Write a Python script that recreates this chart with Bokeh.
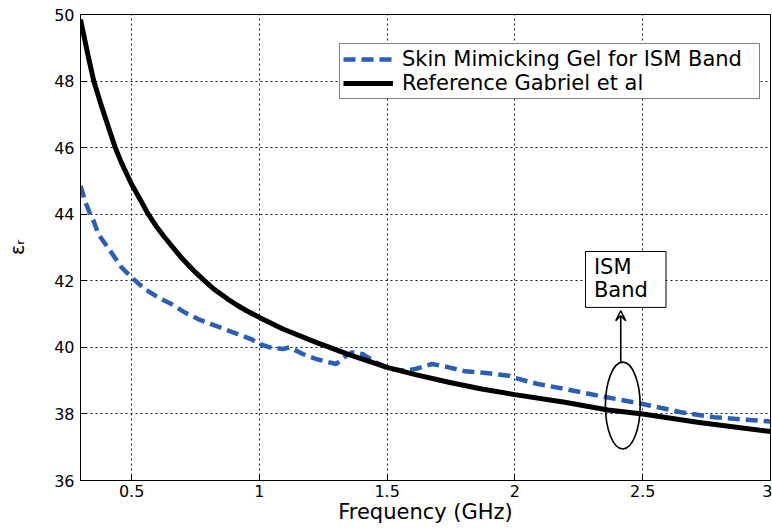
from bokeh.plotting import figure
from bokeh.models import Range1d, FixedTicker, Arrow, VeeHead, Legend, LegendItem
from bokeh.core.properties import value
from bokeh.embed import file_html
from bokeh.resources import INLINE

# Relative permittivity of the skin mimicking gel (measured)
gel_freq = [0.30, 0.32, 0.338, 0.351, 0.37, 0.416, 0.461, 0.50, 0.552, 0.604, 0.656,
            0.708, 0.76, 0.811, 0.863, 0.915, 0.967, 1.00, 1.04, 1.092, 1.118, 1.17,
            1.222, 1.30, 1.34, 1.364, 1.403, 1.455, 1.506, 1.571, 1.61, 1.676, 1.741,
            1.806, 1.897, 1.975, 2.00, 2.09, 2.195, 2.325, 2.50, 2.65, 2.78, 3.00]
gel_eps = [44.85, 44.35, 44.0, 43.8, 43.4, 42.9, 42.4, 42.1, 41.75, 41.5, 41.3,
           41.05, 40.85, 40.7, 40.55, 40.4, 40.25, 40.1, 40.0, 39.95, 40.0, 39.8,
           39.65, 39.5, 39.75, 39.85, 39.8, 39.55, 39.35, 39.3, 39.35, 39.5, 39.4,
           39.28, 39.22, 39.15, 39.08, 38.9, 38.75, 38.55, 38.3, 38.05, 37.9, 37.77]

# Reference skin permittivity (Gabriel et al)
ref_freq = [0.30, 0.315, 0.33, 0.352, 0.38, 0.41, 0.436, 0.46, 0.50, 0.54, 0.565,
            0.60, 0.63, 0.694, 0.75, 0.786, 0.82, 0.876, 0.91, 0.95, 1.00, 1.092,
            1.222, 1.351, 1.50, 1.611, 1.741, 1.87, 2.00, 2.195, 2.364, 2.50, 2.714,
            3.00]
ref_eps = [49.85, 49.3, 48.75, 48.0, 47.3, 46.6, 46.0, 45.55, 44.9, 44.35, 44.0,
           43.6, 43.3, 42.7, 42.25, 42.0, 41.76, 41.45, 41.28, 41.1, 40.9, 40.55,
           40.15, 39.78, 39.4, 39.18, 38.95, 38.75, 38.58, 38.35, 38.12, 38.0, 37.75,
           37.47]

x_ticks = [0.5, 1, 1.5, 2, 2.5, 3]
y_ticks = [36, 38, 40, 42, 44, 46, 48, 50]

series_labels = ["Skin Mimicking Gel for ISM Band", "Reference Gabriel et al"]
band_text = ["ISM", "Band"]

# ISM band marker: ellipse around the curves near 2.45 GHz plus a callout box
band_center = (2.422, 38.25)
band_size = (0.136, 2.61)
box_x = (2.276, 2.591)
box_y = (41.2, 42.88)

FONT = "DejaVu Sans"
BLUE = "#2B5EB4"

p = figure(width=772, height=529, output_backend="svg", toolbar_location=None,
           x_range=Range1d(0.3, 3), y_range=Range1d(36, 50),
           min_border_left=80, min_border_right=2, min_border_top=14,
           min_border_bottom=49, background_fill_color="white",
           border_fill_color="white")
p.outline_line_color = "black"
p.outline_line_width = 1

for ax in (p.xaxis[0], p.yaxis[0]):
    ax.axis_line_color = "black"
    ax.major_tick_line_color = "black"
    ax.major_tick_in = 6
    ax.major_tick_out = 0
    ax.minor_tick_line_color = None
    ax.major_label_text_font = FONT
    ax.major_label_text_font_size = "16px"
    ax.major_label_text_color = "black"
    ax.axis_label_text_font = FONT
    ax.axis_label_text_font_style = "normal"
    ax.axis_label_text_color = "black"

p.xaxis.ticker = FixedTicker(ticks=x_ticks)
p.yaxis.ticker = FixedTicker(ticks=y_ticks)
p.xaxis.major_label_standoff = 4
p.yaxis.major_label_standoff = 6
p.xaxis.axis_label = "Frequency (GHz)"
p.xaxis.axis_label_text_font_size = "21px"
p.xaxis.axis_label_standoff = 0
p.yaxis.axis_label = "εᵣ"
p.yaxis.axis_label_text_font_size = "19px"
p.yaxis.axis_label_standoff = 23

p.xgrid.ticker = FixedTicker(ticks=x_ticks)
p.ygrid.ticker = FixedTicker(ticks=y_ticks)
for g in (p.xgrid, p.ygrid):
    g.grid_line_color = "black"
    g.grid_line_dash = "2 3"
    g.grid_line_width = 1
    g.grid_line_alpha = 0.9

gel = p.line(gel_freq, gel_eps, line_color=BLUE, line_width=4.5, line_dash="12 6")
ref = p.line(ref_freq, ref_eps, line_color="black", line_width=5)

legend = Legend(items=[LegendItem(label=series_labels[0], renderers=[gel]),
                       LegendItem(label=series_labels[1], renderers=[ref])],
                location=(259, 381), orientation="vertical",
                label_text_font=FONT, label_text_font_size="21px",
                label_text_color="black", glyph_width=50, glyph_height=22,
                label_height=22, label_width=354, label_standoff=9, padding=3,
                spacing=0, margin=0,
                border_line_color="black", border_line_width=1,
                background_fill_color="white", background_fill_alpha=1)
p.add_layout(legend, "center")

# ISM band annotation
p.ellipse(x=[band_center[0]], y=[band_center[1]], width=[band_size[0]],
          height=[band_size[1]], fill_color=None, line_color="black", line_width=1.6)
p.add_layout(Arrow(end=VeeHead(size=10, line_color="black", line_width=1.6, fill_color=None),
                   x_start=band_center[0] - 0.008, y_start=band_center[1] + band_size[1] / 2,
                   x_end=band_center[0] - 0.008, y_end=box_y[0] - 0.1,
                   line_color="black", line_width=1.6))
p.quad(left=[box_x[0]], right=[box_x[1]], bottom=[box_y[0]], top=[box_y[1]],
       fill_color="white", line_color="black", line_width=1)
p.text(x=[box_x[0] + 0.033] * 2, y=[42.42, 41.73], text=band_text,
       text_font=value(FONT), text_font_size="21px", text_color="black",
       text_baseline="middle", text_align="left")

open("out.html", "w").write(file_html(p, INLINE))
